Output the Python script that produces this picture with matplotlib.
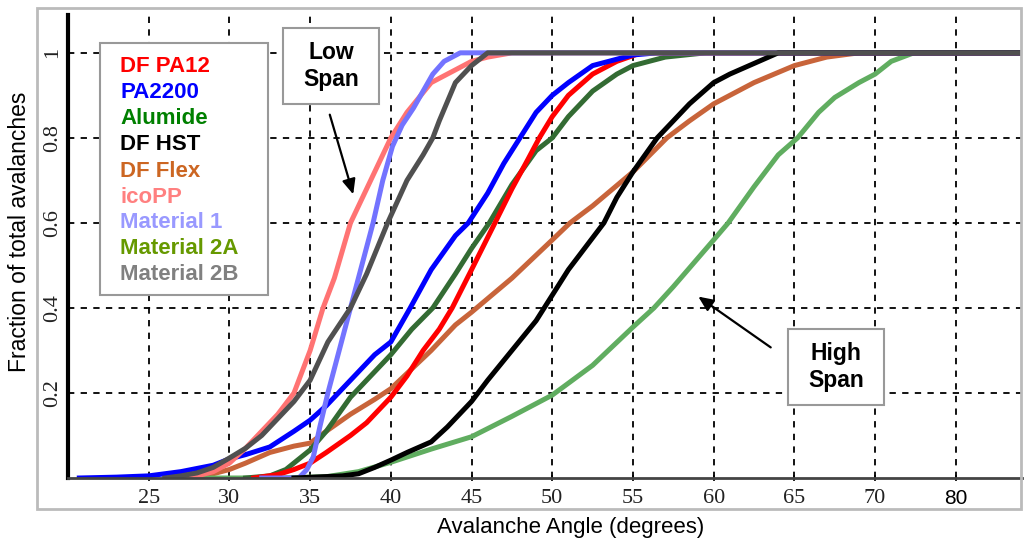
import matplotlib
matplotlib.use("Agg")
import matplotlib.pyplot as plt
from matplotlib.patches import Rectangle

# cumulative fraction of avalanches vs avalanche angle
pa12_x = [31.5, 33, 34, 35, 36, 37.5, 38.5, 40, 41, 42, 43, 43.8, 45, 46.45, 47.5, 48.5, 49.2, 50, 51, 52.5, 54, 55.5, 80]
pa12_y = [0, 0.008, 0.02, 0.035, 0.06, 0.1, 0.13, 0.19, 0.24, 0.3, 0.35, 0.4, 0.49, 0.6, 0.68, 0.75, 0.8, 0.85, 0.9, 0.95, 0.98, 1.0, 1.0]

pa2200_x = [20.7, 23, 25, 27, 29, 30, 31, 32.5, 34, 35, 36, 37.5, 39, 40, 41.2, 42.5, 44, 44.8, 46, 47, 48, 49, 50, 51, 52.5, 54, 55, 56.5, 80]
pa2200_y = [0, 0.002, 0.005, 0.015, 0.03, 0.045, 0.055, 0.073, 0.11, 0.136, 0.17, 0.23, 0.29, 0.32, 0.4, 0.49, 0.57, 0.6, 0.67, 0.74, 0.8, 0.86, 0.9, 0.93, 0.97, 0.985, 0.995, 1.0, 1.0]

alumide_x = [27.5, 33, 36, 38, 40, 42.5, 45, 47.5, 50, 52.5, 55, 56.3, 57.5, 60, 60.9, 62.5, 64, 65.2, 66.5, 67.5, 69, 70, 71, 72.4, 80]
alumide_y = [0, 0, 0.003, 0.015, 0.037, 0.068, 0.097, 0.145, 0.195, 0.265, 0.355, 0.4, 0.45, 0.56, 0.6, 0.685, 0.76, 0.8, 0.86, 0.895, 0.93, 0.95, 0.98, 1.0, 1.0]

hst_x = [34, 37, 38, 39, 40, 41, 42.5, 43.5, 45, 46, 47.5, 49, 50, 51, 52, 53.2, 54, 55, 56.5, 57.5, 58.5, 60, 61, 62.5, 64, 80]
hst_y = [0, 0.005, 0.01, 0.025, 0.042, 0.06, 0.085, 0.12, 0.18, 0.23, 0.3, 0.37, 0.43, 0.49, 0.54, 0.6, 0.66, 0.72, 0.8, 0.84, 0.88, 0.93, 0.95, 0.975, 1.0, 1.0]

flex_x = [27.5, 28.5, 30, 31, 32.5, 34, 35, 36, 37.5, 39, 40, 42.5, 44, 45, 47.5, 50, 51.1, 52.5, 55, 57.1, 58.5, 60, 62.5, 65, 67, 69, 80]
flex_y = [0, 0.005, 0.02, 0.035, 0.06, 0.075, 0.082, 0.11, 0.15, 0.185, 0.21, 0.3, 0.36, 0.39, 0.47, 0.56, 0.6, 0.64, 0.72, 0.8, 0.84, 0.88, 0.93, 0.97, 0.99, 1.0, 1.0]

icopp_x = [27, 28, 29, 30, 31, 32, 33, 34, 35, 35.8, 36.5, 37.5, 38, 39, 40, 41, 42.5, 44, 45, 46, 47.5, 80]
icopp_y = [0, 0.005, 0.015, 0.035, 0.07, 0.11, 0.15, 0.2, 0.3, 0.4, 0.47, 0.6, 0.64, 0.72, 0.8, 0.86, 0.93, 0.96, 0.98, 0.99, 1.0, 1.0]

mat1_x = [32, 34.3, 34.8, 35.2, 35.6, 36.1, 36.8, 37.5, 38.2, 38.9, 39.5, 40.1, 40.7, 41.4, 42, 42.6, 43.3, 44.3, 80]
mat1_y = [0, 0, 0.02, 0.05, 0.12, 0.2, 0.3, 0.4, 0.5, 0.6, 0.7, 0.78, 0.83, 0.87, 0.91, 0.95, 0.98, 1.0, 1.0]

mat2a_x = [31, 32.5, 33.5, 35, 36, 37.5, 39, 40, 41.3, 42.6, 44, 45, 46.1, 47.5, 49, 50, 51, 52.5, 54, 55, 57, 59.5, 80]
mat2a_y = [0, 0.005, 0.02, 0.066, 0.11, 0.19, 0.25, 0.29, 0.35, 0.4, 0.48, 0.54, 0.6, 0.69, 0.77, 0.8, 0.85, 0.91, 0.95, 0.97, 0.99, 1.0, 1.0]

mat2b_x = [26, 27, 28, 29, 30, 31, 32, 33, 34, 35, 36.1, 37.5, 38.5, 39.8, 41, 42, 42.6, 43, 44, 45, 46, 80]
mat2b_y = [0, 0.005, 0.012, 0.025, 0.047, 0.07, 0.1, 0.14, 0.18, 0.23, 0.32, 0.4, 0.48, 0.6, 0.7, 0.76, 0.8, 0.84, 0.93, 0.97, 1.0, 1.0]

names = ["DF PA12", "PA2200", "Alumide", "DF HST", "DF Flex", "icoPP", "Material 1", "Material 2A", "Material 2B"]
text_colors = ["#FF0000", "#0000FF", "#008000", "#000000", "#CC6622", "#FF8080", "#9999FF", "#669900", "#808080"]

xticks = [25, 30, 35, 40, 45, 50, 55, 60, 65, 70, 75]
xtick_labels = ["25", "30", "35", "40", "45", "50", "55", "60", "65", "70", "80"]
yticks = [0.2, 0.4, 0.6, 0.8, 1.0]
ytick_labels = ["0.2", "0.4", "0.6", "0.8", "1"]

W, H = 1025, 542
fig = plt.figure(figsize=(W / 100, H / 100), dpi=100)
ax = fig.add_axes([68 / W, 1 - 478 / H, (1022 - 68) / W, (478 - 15) / H])

def px(x, y):
    return x / W, 1 - y / H

# outer light grey frame
fig.patches.append(Rectangle(px(37, 509), (1021 - 37) / W, (509 - 8) / H,
                             transform=fig.transFigure, fill=False, ec="#BBBBBB", lw=2))

lw = 3.6
ax.plot(flex_x, flex_y, color="#C8643A", lw=lw)
ax.plot(alumide_x, alumide_y, color="#60AD60", lw=lw)
ax.plot(mat2a_x, mat2a_y, color="#336B33", lw=lw)
ax.plot(pa12_x, pa12_y, color="#FF0000", lw=lw)
ax.plot(pa2200_x, pa2200_y, color="#0000FF", lw=lw)
ax.plot(icopp_x, icopp_y, color="#FF7373", lw=lw)
ax.plot(mat1_x, mat1_y, color="#7373FF", lw=lw)
ax.plot(hst_x, hst_y, color="#000000", lw=lw)
ax.plot(mat2b_x, mat2b_y, color="#505050", lw=lw)

ax.set_xlim(20, 79.1)
ax.set_ylim(0, 1.089)

ax.set_xticks(xticks)
ax.set_xticklabels(xtick_labels, family="Liberation Serif", fontsize=16, color="#222222")
ax.get_xticklabels()[-1].set_family("Liberation Sans")
ax.get_xticklabels()[-1].set_fontsize(15)
ax.get_xticklabels()[-1].set_color("black")
ax.set_yticks(yticks)
ax.set_yticklabels(ytick_labels, family="Liberation Serif", fontsize=16, rotation=90,
                   va="center", color="#222222")
ax.tick_params(axis="x", length=4, width=1.2, pad=6, direction="inout")
ax.tick_params(axis="y", length=0, pad=4)

ax.grid(True, color="black", ls=(0, (3.5, 3.5)), lw=1.3)
for s in ["top", "right"]:
    ax.spines[s].set_visible(False)
ax.spines["bottom"].set_color("#444444")
ax.spines["bottom"].set_linewidth(2)
ax.spines["left"].set_linestyle((0, (2, 1)))
ax.spines["left"].set_linewidth(3)

fig.text(571 / W, 1 - 527 / H, "Avalanche Angle (degrees)", ha="center", va="center",
         fontsize=16, family="Liberation Sans")
fig.text(20 / W, 1 - 232 / H, "Fraction of total avalanches", ha="center", va="center",
         rotation=90, fontsize=16.5, family="Liberation Sans")

# legend: coloured names in a grey box
fig.patches.append(Rectangle(px(100, 295), (268 - 100) / W, (295 - 43) / H, transform=fig.transFigure,
                             fc="white", ec="#999999", lw=1.5, zorder=5))
for i, (name, c) in enumerate(zip(names, text_colors)):
    fig.text(*px(120, 67 + 26 * i), name, ha="left", va="center", color=c, fontsize=16,
             weight="bold", family="Liberation Sans", zorder=6)

# annotation boxes
for (x0, y0, x1, y1), label in [((283, 28, 379, 104), "Low\nSpan"), ((788, 329, 884, 405), "High\nSpan")]:
    fig.patches.append(Rectangle(px(x0, y1), (x1 - x0) / W, (y1 - y0) / H, transform=fig.transFigure,
                                 fc="white", ec="#999999", lw=1.5, zorder=5))
    fig.text(*px((x0 + x1) / 2, (y0 + y1) / 2), label, ha="center", va="center", fontsize=16.5,
             weight="bold", family="Liberation Sans", linespacing=1.25, zorder=6)

arrow = dict(arrowstyle="-|>,head_length=0.9,head_width=0.4", color="black", lw=1.6)
ax.annotate("", xy=px(354, 197), xytext=px(329, 112), xycoords="figure fraction",
            textcoords="figure fraction", arrowprops=arrow)
ax.annotate("", xy=px(696, 295), xytext=px(773, 349), xycoords="figure fraction",
            textcoords="figure fraction", arrowprops=arrow)

fig.savefig("out.png", dpi=100, facecolor="white")
